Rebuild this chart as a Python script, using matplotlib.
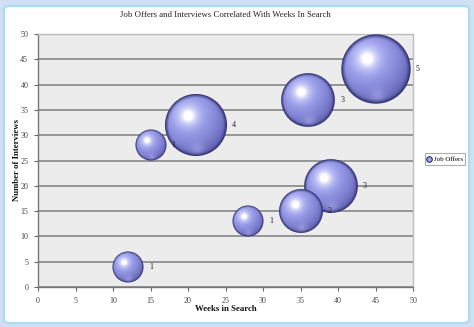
import numpy as np
import matplotlib
matplotlib.use("Agg")
import matplotlib.pyplot as plt
from matplotlib.patches import FancyBboxPatch
from matplotlib.offsetbox import OffsetImage, AnnotationBbox
from matplotlib.lines import Line2D

# Job search data
weeks = [12, 15, 21, 28, 35, 39, 36, 45]
interviews = [4, 28, 32, 13, 15, 20, 37, 43]
offers = [1, 1, 4, 1, 2, 3, 3, 5]

title = "Job Offers and Interviews Correlated With Weeks In Search"
xlabel = "Weeks in Search"
ylabel = "Number of Interviews"
series_name = "Job Offers"
xticks = list(range(0, 51, 5))
yticks = list(range(0, 51, 5))

SERIF = "Liberation Serif"
DPI = 100
R1 = 15.5  # bubble radius in pixels for a value of 1


def sphere_image(radius):
    """Shaded 3-D bubble as an RGBA array."""
    n = int(np.ceil(radius)) * 2 + 2
    c = (n - 1) / 2.0
    yy, xx = np.mgrid[0:n, 0:n]
    u = (xx - c) / radius
    v = (yy - c) / radius
    d = np.sqrt(u ** 2 + v ** 2)
    z = np.sqrt(np.clip(1 - d ** 2, 0, 1))
    L = np.array([-0.3, 0.4, 0.87])
    L = L / np.linalg.norm(L)
    diff = np.clip(u * L[0] - v * L[1] + z * L[2], 0, 1)
    base = np.array([160, 164, 242]) / 255.0
    dark = np.array([70, 70, 150]) / 255.0
    col = dark + (base - dark) * (0.35 + 0.65 * diff[..., None])
    # broad soft highlight with a white core
    hl = 0.75 * np.exp(-((u + 0.25) ** 2 + (v + 0.3) ** 2) / 0.13)
    hl += 0.6 * np.exp(-((u + 0.25) ** 2 + (v + 0.3) ** 2) / 0.03)
    hl = np.clip(hl, 0, 1)
    col = col + (1 - col) * hl[..., None]
    # lighter reflection near the lower rim
    bounce = np.exp(-((u - 0.05) ** 2 + (v - 0.78) ** 2) / 0.05) * 0.35
    col = col + (np.array([0.78, 0.78, 1.0]) - col) * bounce[..., None]
    # darker edge
    edge_dark = np.array([40, 40, 100]) / 255.0
    rim = np.clip((d - 0.86) / 0.14, 0, 1) ** 1.5
    col = col * (1 - rim[..., None]) + edge_dark * rim[..., None]
    alpha = np.clip((1 - d) * radius + 0.5, 0, 1)
    img = np.dstack([np.clip(col, 0, 1), alpha])
    return img


fig = plt.figure(figsize=(474 / DPI, 327 / DPI), dpi=DPI)
fig.patch.set_facecolor("#cfe0f4")

# white rounded chart frame
frame = FancyBboxPatch((4 / 474, 4 / 327), 465 / 474, 317 / 327,
                       boxstyle="round,pad=0,rounding_size=0.012",
                       transform=fig.transFigure, facecolor="white",
                       edgecolor="#a9dcec", linewidth=1.5, zorder=-5)
fig.patches.append(frame)

ax = fig.add_axes([38 / 474, 1 - 287 / 327, 375 / 474, 253 / 327])
ax.set_zorder(2)
ax.set_facecolor("#ececec")
ax.set_xlim(0, 50)
ax.set_ylim(0, 50)
ax.set_xticks(xticks)
ax.set_yticks(yticks)
ax.set_xticklabels([str(t) for t in xticks], fontfamily=SERIF, fontsize=5.8, color="#444444")
ax.set_yticklabels([str(t) for t in yticks], fontfamily=SERIF, fontsize=5.8, color="#444444")
ax.tick_params(axis="both", length=3, width=0.8, color="#666666", pad=4)
ax.yaxis.grid(True, color="#8e8e8e", linewidth=1.3)
ax.set_axisbelow(True)
for side in ("left", "bottom"):
    ax.spines[side].set_color("#777777")
    ax.spines[side].set_linewidth(1.0)
for side in ("top", "right"):
    ax.spines[side].set_color("#bdbdbd")
    ax.spines[side].set_linewidth(1.0)

# bubbles: area proportional to the offer count, larger ones underneath
order = sorted(range(len(weeks)), key=lambda i: -offers[i])
for rank, i in enumerate(order):
    r = R1 * np.sqrt(offers[i])
    im = OffsetImage(sphere_image(r), zoom=1, dpi_cor=False)
    ab = AnnotationBbox(im, (weeks[i], interviews[i]), xycoords="data",
                        frameon=False, pad=0, box_alignment=(0.5, 0.5),
                        zorder=3 + rank, annotation_clip=False)
    ax.add_artist(ab)
    ax.annotate(str(offers[i]), (weeks[i], interviews[i]), xycoords="data",
                xytext=(r * 72 / DPI + 4, 0), textcoords="offset points",
                ha="left", va="center", fontfamily=SERIF, fontsize=5.8,
                color="#222222", zorder=20)

fig.text(0.5 * (38 + 413) / 474, 1 - 15 / 327, title, ha="center", va="center",
         fontfamily=SERIF, fontsize=6.3, color="#222222")
fig.text(0.5 * (38 + 413) / 474, 1 - 309 / 327, xlabel, ha="center", va="center",
         fontfamily=SERIF, fontsize=6.3, fontweight="bold", color="#111111")
fig.text(17 / 474, 1 - 160 / 327, ylabel, ha="center", va="center", rotation=90,
         fontfamily=SERIF, fontsize=6.3, fontweight="bold", color="#111111")

handle = Line2D([], [], marker="o", linestyle="none", markersize=4,
                markerfacecolor="#a4a6f0", markeredgecolor="#2d2d6e", markeredgewidth=0.8)
leg = fig.legend([handle], [series_name], loc="center",
                 bbox_to_anchor=(445 / 474, 1 - 159 / 327),
                 prop={"family": SERIF, "size": 5}, frameon=True, fancybox=False,
                 handlelength=0.6, handletextpad=0.3, borderpad=0.4,
                 borderaxespad=0)
leg.get_frame().set_edgecolor("#9a9a9a")
leg.get_frame().set_linewidth(0.8)

fig.savefig("out.png", dpi=DPI, facecolor=fig.get_facecolor())
